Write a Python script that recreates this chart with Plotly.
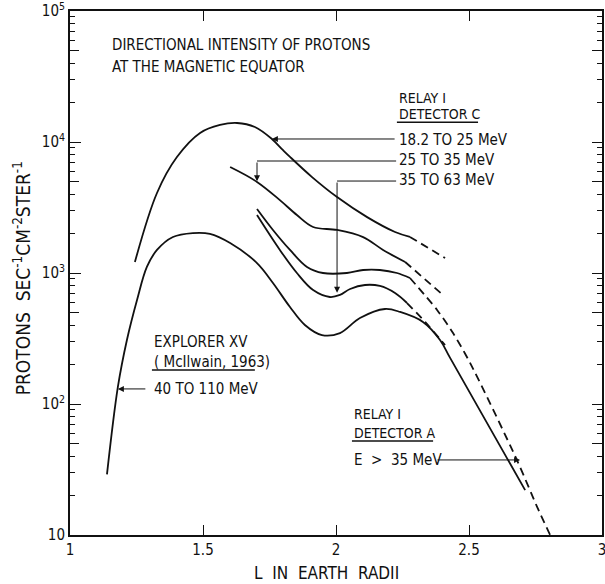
import plotly.graph_objects as go

# ---- data ----
exp_L = [1.139, 1.180, 1.214, 1.252, 1.289, 1.327, 1.387, 1.462, 1.526, 1.602, 1.703,
         1.763, 1.827, 1.883, 1.947, 2.015, 2.090, 2.184, 2.241, 2.327, 2.391, 2.429, 2.711]
exp_I = [29, 135, 308, 622, 1112, 1500, 1884, 2018, 1990, 1694, 1191,
         839, 550, 401, 336, 348, 453, 531, 504, 423, 308, 225, 22]

cA_L = [1.244, 1.327, 1.402, 1.489, 1.564, 1.628, 1.695, 1.759, 1.800, 1.827, 1.910,
        2.004, 2.117, 2.222, 2.278]
cA_I = [1213, 4080, 7670, 11720, 13490, 13970, 13020, 10550, 8700, 7700, 5400,
        3800, 2670, 2055, 1885]
cA_dash_L = [2.278, 2.410]
cA_dash_I = [1885, 1300]

cB_L = [1.602, 1.703, 1.789, 1.853, 1.914, 2.004, 2.102, 2.177, 2.260]
cB_I = [6440, 4960, 3600, 2770, 2245, 2130, 1880, 1500, 1213]
cB_dash_L = [2.260, 2.402]
cB_dash_I = [1213, 680]

cRA_L = [1.703, 1.763, 1.827, 1.891, 1.951, 2.041, 2.102, 2.165, 2.229, 2.278]
cRA_I = [3080, 2130, 1500, 1112, 1000, 1000, 1054, 1054, 1000, 916]
cRA_dash_L = [2.278, 2.380, 2.440, 2.504, 2.680, 2.756, 2.805]
cRA_dash_I = [916, 522, 348, 206, 37.4, 16.4, 10]

cD_L = [1.703, 1.789, 1.853, 1.914, 1.977, 2.015, 2.053, 2.109, 2.165, 2.222, 2.267]
cD_I = [2770, 1500, 1000, 741, 656, 680, 755, 810, 796, 703, 590]
cD_dash_L = [2.267, 2.335, 2.410]
cD_dash_I = [590, 423, 282]

x_ticks = [1, 1.5, 2, 2.5, 3]
x_ticktext = ["1", "1.5", "2", "2.5", "3"]
y_ticks = [10, 100, 1000, 10000, 100000]
y_ticktext = ["10", "10<sup>2</sup>", "10<sup>3</sup>", "10<sup>4</sup>", "10<sup>5</sup>"]

FONT = "Liberation Sans Narrow, DejaVu Sans Condensed, Roboto Condensed, Roboto, sans-serif"
BLACK = "#111111"

fig = go.Figure()

def solid(xs, ys):
    fig.add_trace(go.Scatter(x=xs, y=ys, mode="lines", line=dict(color=BLACK, width=1.8, shape="spline", smoothing=1.0),
                             hoverinfo="skip", showlegend=False))

def dashed(xs, ys):
    fig.add_trace(go.Scatter(x=xs, y=ys, mode="lines", line=dict(color=BLACK, width=1.8, dash="8px,5px", shape="spline", smoothing=0.8),
                             hoverinfo="skip", showlegend=False))

solid(exp_L, exp_I)
solid(cA_L, cA_I); dashed(cA_dash_L, cA_dash_I)
solid(cB_L, cB_I); dashed(cB_dash_L, cB_dash_I)
solid(cRA_L, cRA_I); dashed(cRA_dash_L, cRA_dash_I)
solid(cD_L, cD_I); dashed(cD_dash_L, cD_dash_I)

def thin(xs, ys, w=1.0):
    fig.add_trace(go.Scatter(x=xs, y=ys, mode="lines", line=dict(color=BLACK, width=w),
                             hoverinfo="skip", showlegend=False))

# underlines
thin([2.229, 2.534], [10**4.150, 10**4.150], 1.5)
thin([1.308, 1.695], [10**2.260, 10**2.260], 1.5)
thin([2.060, 2.365], [10**1.718, 10**1.718], 1.5)
# horizontal legs of the bent arrows
thin([2.226, 1.703], [10**3.855, 10**3.855])
thin([2.226, 2.004], [10**3.702, 10**3.702])

# invisible traces for the overlay axes (5x ticks, right-side ticks)
fig.add_trace(go.Scatter(x=[2], y=[100], yaxis="y2", mode="lines", hoverinfo="skip", showlegend=False))
fig.add_trace(go.Scatter(x=[2], y=[100], yaxis="y3", mode="lines", hoverinfo="skip", showlegend=False))
fig.add_trace(go.Scatter(x=[2], y=[100], yaxis="y4", mode="lines", hoverinfo="skip", showlegend=False))

ann = []
def text(x, ly, t, size=15):
    ann.append(dict(x=x, y=ly, xref="x", yref="y", text=t, showarrow=False, xanchor="left", yanchor="middle",
                    font=dict(family=FONT, size=size, color=BLACK)))

def arrow(x, ly, ax, ay):
    ann.append(dict(x=x, y=ly, xref="x", yref="y", ax=ax, ay=ay, axref="x", ayref="y", text="", showarrow=True,
                    arrowhead=2, arrowsize=1.2, arrowwidth=1, arrowcolor=BLACK))

text(1.150, 4.74, "DIRECTIONAL INTENSITY OF PROTONS", 15)
text(1.150, 4.573, "AT THE MAGNETIC EQUATOR", 15)
text(2.229, 4.338, "RELAY I", 14)
text(2.229, 4.215, "DETECTOR C", 14)
text(2.229, 4.015, "18.2 TO 25 MeV")
text(2.229, 3.863, "25 TO 35 MeV")
text(2.229, 3.710, "35 TO 63 MeV")
text(1.308, 2.473, "EXPLORER XV")
text(1.308, 2.321, "( McIlwain, 1963)")
text(1.308, 2.115, "40 TO 110 MeV")
text(2.060, 1.924, "RELAY I", 14)
text(2.060, 1.782, "DETECTOR A", 14)
text(2.060, 1.573, "E  >  35 MeV")

arrow(1.759, 4.023, 2.226, 4.023)
arrow(1.703, 3.700, 1.703, 3.855)
arrow(2.004, 2.850, 2.004, 3.702)
arrow(1.180, 2.115, 1.289, 2.115)
arrow(2.692, 1.573, 2.376, 1.573)

ann.append(dict(x=0.483, y=-0.0725, xref="paper", yref="paper", text="L  IN  EARTH  RADII", showarrow=False,
                xanchor="center", yanchor="middle", font=dict(family=FONT, size=17, color=BLACK)))
ann.append(dict(x=-0.090, y=0.49, xref="paper", yref="paper",
                text="PROTONS  SEC<sup>-1</sup>CM<sup>-2</sup>STER<sup>-1</sup>", textangle=-90, showarrow=False,
                xanchor="center", yanchor="middle", font=dict(family=FONT, size=19, color=BLACK)))

minor_vals = [m * 10**d for d in range(1, 5) for m in (2, 3, 4, 6, 7, 8, 9)]
five_vals = [5 * 10**d for d in range(1, 5)]

common = dict(type="log", range=[1, 5], overlaying="y", ticks="inside", tickwidth=1, tickcolor=BLACK,
              showticklabels=False, showline=False, showgrid=False, zeroline=False, automargin=False)

fig.update_layout(
    width=605, height=584,
    margin=dict(l=70, r=3, t=11, b=49, autoexpand=False),
    paper_bgcolor="white", plot_bgcolor="white",
    font=dict(family=FONT, size=14, color=BLACK),
    annotations=ann,
    xaxis=dict(range=[1, 3], tickvals=x_ticks, ticktext=x_ticktext, ticks="inside", ticklen=10, tickwidth=1,
               tickcolor=BLACK, showline=True, linecolor=BLACK, linewidth=2, mirror="ticks", showgrid=False,
               zeroline=False, tickfont=dict(size=15), automargin=False, ticklabeloverflow="allow"),
    yaxis=dict(type="log", range=[1, 5], tickvals=y_ticks, ticktext=y_ticktext, ticks="inside", ticklen=11,
               tickwidth=1, tickcolor=BLACK, showline=True, linecolor=BLACK, linewidth=2, mirror=True,
               showgrid=False, zeroline=False, tickfont=dict(size=15), automargin=False, ticklabeloverflow="allow",
               minor=dict(tickvals=minor_vals, ticks="inside", ticklen=5, tickcolor=BLACK, tickwidth=1, showgrid=False)),
    yaxis2=dict(side="left", tickvals=five_vals, ticklen=9, **common),
    yaxis3=dict(side="right", tickvals=y_ticks + five_vals, ticklen=10, **common),
    yaxis4=dict(side="right", tickvals=minor_vals, ticklen=5, **common),
)

fig.write_html("out.html", config={"displayModeBar": False},
               post_script="document.body.style.margin='0px';document.body.style.overflow='hidden';")
